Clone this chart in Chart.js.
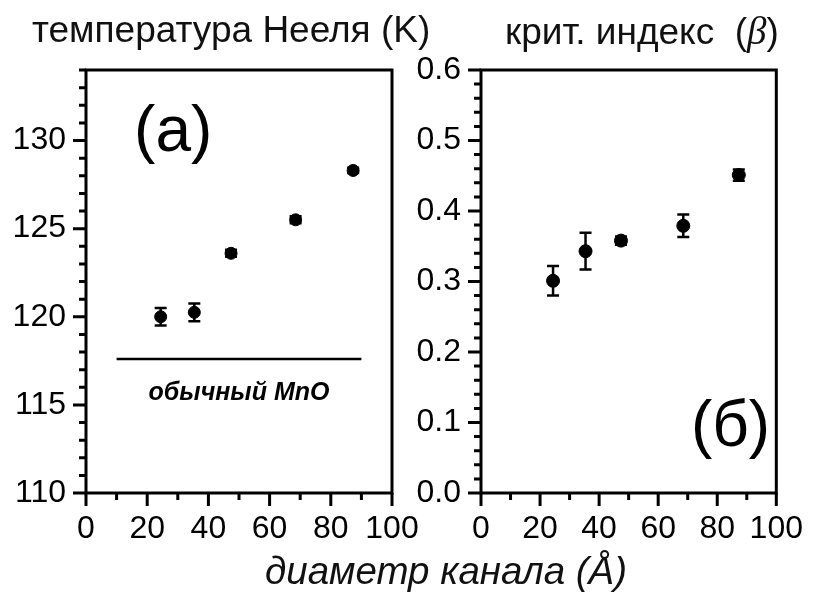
<!DOCTYPE html>
<html>
<head>
<meta charset="utf-8">
<script src="https://cdn.jsdelivr.net/npm/chart.js@4"></script>
<style>
  body { margin: 0; background: #fff; }
  #wrap { position: relative; width: 820px; height: 592px; overflow: hidden; }
  canvas { position: absolute; left: 0; top: 0; }
  .txt { position: absolute; white-space: nowrap; color: #111; font-family: "Liberation Sans", Arial, sans-serif; line-height: 1; }
</style>
</head>
<body>
<div id="wrap">
  <canvas id="chartA" width="820" height="592"></canvas>
  <canvas id="chartB" width="820" height="592"></canvas>
  <div class="txt" style="left:32px; top:11px; font-size:37px;">температура Нееля (K)</div>
  <div class="txt" style="left:505px; top:11px; font-size:37px;">крит. индекс &nbsp;(<i style="font-family:'Liberation Serif',serif; font-size:39px;">β</i>)</div>
  <div class="txt" style="left:265px; top:552px; font-size:38.5px; font-style:italic;">диаметр канала (Å)</div>
</div>
<script>
// channel diameter (Å)
const diameters = [24.4, 35.4, 47.4, 68.5, 87.3];
// Néel temperature (K) and errors
const neelT = [120.0, 120.25, 123.6, 125.5, 128.3];
const neelErr = [0.5, 0.5, 0.2, 0.2, 0.15];
// critical exponent beta and errors
const beta = [0.301, 0.343, 0.358, 0.379, 0.451];
const betaErr = [0.021, 0.026, 0.006, 0.016, 0.008];
// bulk MnO reference line
const bulkX = [10, 90];
const bulkT = 117.6;

const xTicks = [0, 20, 40, 60, 80, 100];
const yTicksA = [110, 115, 120, 125, 130];
const yTicksB = [0.0, 0.1, 0.2, 0.3, 0.4, 0.5, 0.6];

const tickFont = { family: "'Liberation Sans', Arial, sans-serif", size: 32 };

// error bars, frame, ticks and labels
const decor = {
  id: 'decor',
  afterDatasetsDraw(chart, args, opts) {
    const ctx = chart.ctx;
    const { left, right, top, bottom } = chart.chartArea;
    const xs = chart.scales.x, ys = chart.scales.y;
    ctx.save();
    ctx.strokeStyle = '#000';
    ctx.lineWidth = 2.5;
    // error bars
    const pts = chart.data.datasets[0].data;
    opts.errors.forEach((e, i) => {
      const px = xs.getPixelForValue(pts[i].x);
      const y1 = ys.getPixelForValue(pts[i].y - e);
      const y2 = ys.getPixelForValue(pts[i].y + e);
      ctx.beginPath();
      ctx.moveTo(px, y1); ctx.lineTo(px, y2);
      ctx.moveTo(px - 6, y1); ctx.lineTo(px + 6, y1);
      ctx.moveTo(px - 6, y2); ctx.lineTo(px + 6, y2);
      ctx.stroke();
    });
    // frame
    ctx.lineWidth = 3;
    ctx.strokeRect(left, top, right - left, bottom - top);
    // ticks
    ctx.beginPath();
    for (let v = xs.min; v <= xs.max + 1e-9; v += 10) {
      const p = xs.getPixelForValue(v);
      const len = Math.round(v) % 20 === 0 ? 13 : 7;
      ctx.moveTo(p, bottom); ctx.lineTo(p, bottom + len);
    }
    for (let v = ys.min; v <= ys.max + 1e-9; v += opts.minor) {
      const p = ys.getPixelForValue(v);
      const r = Math.round(v / opts.minor) % Math.round(opts.major / opts.minor) === 0;
      const len = r ? 13 : 7;
      ctx.moveTo(left, p); ctx.lineTo(left - len, p);
    }
    ctx.stroke();
    // text annotations
    ctx.fillStyle = '#000';
    (opts.labels || []).forEach(l => {
      ctx.font = l.font;
      ctx.textAlign = 'center';
      ctx.textBaseline = 'alphabetic';
      ctx.fillText(l.text, xs.getPixelForValue(l.x), ys.getPixelForValue(l.y));
    });
    ctx.restore();
  }
};

function makeChart(id, opts) {
  return new Chart(document.getElementById(id), {
    type: 'scatter',
    data: {
      datasets: opts.datasets
    },
    options: {
      responsive: false,
      animation: false,
      layout: { padding: { top: 70, right: opts.padRight, left: 0, bottom: 0 } },
      plugins: {
        legend: { display: false },
        tooltip: { enabled: false },
        decor: opts.decor
      },
      scales: {
        x: {
          type: 'linear', min: 0, max: 100,
          afterBuildTicks: s => { s.ticks = xTicks.map(v => ({ value: v })); },
          afterFit: s => { s.height = 99; },
          grid: { display: false, drawTicks: false },
          border: { display: false },
          ticks: { font: tickFont, color: '#000', padding: 17, maxRotation: 0, autoSkip: false }
        },
        y: {
          type: 'linear', min: opts.yMin, max: opts.yMax,
          afterBuildTicks: s => { s.ticks = opts.yTicks.map(v => ({ value: v })); },
          afterFit: s => { s.width = opts.yWidth; },
          grid: { display: false, drawTicks: false },
          border: { display: false },
          ticks: { font: tickFont, color: '#000', padding: 20, autoSkip: false, callback: opts.fmt }
        }
      }
    },
    plugins: [decor]
  });
}

makeChart('chartA', {
  padRight: 820 - 392,
  yWidth: 86,
  yMin: 110, yMax: 134,
  yTicks: yTicksA,
  fmt: v => String(v),
  datasets: [
    {
      data: diameters.map((d, i) => ({ x: d, y: neelT[i] })),
      pointRadius: 6, pointBackgroundColor: '#000', pointBorderColor: '#000', showLine: false
    },
    {
      data: bulkX.map(x => ({ x: x, y: bulkT })),
      showLine: true, borderColor: '#000', borderWidth: 2.5, pointRadius: 0
    }
  ],
  decor: {
    errors: neelErr, minor: 1, major: 5,
    labels: [
      { text: '(a)', x: 28.5, y: 129.4, font: "64px 'Liberation Sans', Arial, sans-serif" },
      { text: 'обычный MnO', x: 50, y: 115.3, font: "italic bold 25px 'Liberation Sans', Arial, sans-serif" }
    ]
  }
});

makeChart('chartB', {
  padRight: 820 - 788,
  yWidth: 481,
  yMin: 0, yMax: 0.6,
  yTicks: yTicksB,
  fmt: v => v.toFixed(1),
  datasets: [
    {
      data: diameters.map((d, i) => ({ x: d, y: beta[i] })),
      pointRadius: 6.5, pointBackgroundColor: '#000', pointBorderColor: '#000', showLine: false
    }
  ],
  decor: {
    errors: betaErr, minor: 0.02, major: 0.1,
    labels: [
      { text: '(б)', x: 84.5, y: 0.066, font: "64px 'Liberation Sans', Arial, sans-serif" }
    ]
  }
});
</script>
</body>
</html>
